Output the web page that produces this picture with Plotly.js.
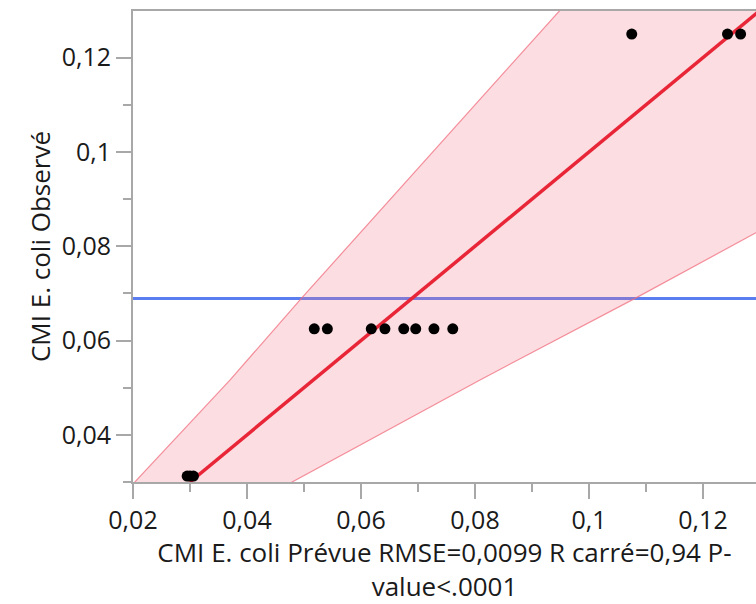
<!DOCTYPE html>
<html>
<head>
<meta charset="utf-8">
<script src="https://cdn.plot.ly/plotly-3.0.1.min.js"></script>
<style>
html, body { margin: 0; padding: 0; background: #fff; }
#chart { width: 756px; height: 604px; }
</style>
</head>
<body>
<div id="chart"></div>
<script>
// Data
const predicted = [0.0295, 0.0300, 0.0306, 0.0518, 0.0541, 0.0618, 0.0642, 0.0675, 0.0696, 0.0728, 0.0761, 0.1075, 0.1243, 0.1266];
const observed  = [0.03125, 0.03125, 0.03125, 0.0625, 0.0625, 0.0625, 0.0625, 0.0625, 0.0625, 0.0625, 0.0625, 0.125, 0.125, 0.125];

const fitX = [0.03, 0.135];
const fitY = [0.03, 0.135];

const meanObserved = 0.0689;

const bandUpperX = [0.0126, 0.0203, 0.0370, 0.0495, 0.0949, 0.1023];
const bandUpperY = [0.02, 0.03, 0.0516, 0.0689, 0.13, 0.14];
const bandLowerX = [0.0327, 0.0481, 0.0808, 0.1080, 0.1292, 0.145];
const bandLowerY = [0.02, 0.03, 0.0516, 0.0689, 0.0828, 0.0932];

const xRange = [0.02, 0.1293];
const yRange = [0.03, 0.1299];

const xTickVals = [0.02, 0.04, 0.06, 0.08, 0.1, 0.12];
const xTickText = ['0,02', '0,04', '0,06', '0,08', '0,1', '0,12'];
const yTickVals = [0.04, 0.06, 0.08, 0.1, 0.12];
const yTickText = ['0,04', '0,06', '0,08', '0,1', '0,12'];

const xTitle = 'CMI E. coli Prévue RMSE=0,0099 R carré=0,94 P-<br>value<.0001';
const yTitle = 'CMI E. coli Observé';

// Build the band polygon: upper edge, outer corner, lower edge reversed
const cornerX = bandLowerX[bandLowerX.length - 1];
const cornerY = bandUpperY[bandUpperY.length - 1];
const polyX = bandUpperX.concat([cornerX]).concat(bandLowerX.slice().reverse());
const polyY = bandUpperY.concat([cornerY]).concat(bandLowerY.slice().reverse());

const FONT = '"Segoe UI", "Open Sans", "Noto Sans", sans-serif';
const TICK_SIZE = 25;
const TITLE_SIZE = 26;
const TXT = '#1a1a1a';
const AXIS_COLOR = '#a8a8a8';

const traces = [
  {
    x: [xRange[0] - 0.01, xRange[1] + 0.01], y: [meanObserved, meanObserved],
    mode: 'lines', line: { color: 'rgb(90,125,240)', width: 3 },
    hoverinfo: 'skip', showlegend: false
  },
  {
    x: polyX, y: polyY, mode: 'lines', fill: 'toself',
    fillcolor: 'rgba(245,120,140,0.25)',
    line: { color: 'rgba(240,110,125,0.75)', width: 1.2 },
    hoverinfo: 'skip', showlegend: false
  },
  {
    x: fitX, y: fitY, mode: 'lines',
    line: { color: 'rgb(232,38,55)', width: 3.5 },
    hoverinfo: 'skip', showlegend: false
  },
  {
    x: predicted, y: observed, mode: 'markers',
    marker: { color: '#000', size: 11 },
    showlegend: false, cliponaxis: false
  }
];

const layout = {
  width: 756, height: 604,
  margin: { l: 133, r: 0, t: 11, b: 122 },
  paper_bgcolor: '#fff', plot_bgcolor: '#fff',
  font: { family: FONT, size: TICK_SIZE, color: TXT },
  showlegend: false,
  xaxis: {
    range: xRange, showgrid: false, zeroline: false,
    showline: true, linecolor: AXIS_COLOR, linewidth: 2, mirror: true,
    ticks: 'outside', ticklen: 15, tickwidth: 2, tickcolor: AXIS_COLOR,
    tickvals: xTickVals, ticktext: xTickText,
    tickfont: { family: FONT, size: TICK_SIZE, color: TXT },
    minor: { dtick: 0.01, ticks: 'outside', ticklen: 8, tickwidth: 2, tickcolor: AXIS_COLOR, showgrid: false },
    title: { text: xTitle, font: { family: FONT, size: TITLE_SIZE, color: TXT }, standoff: 5 }
  },
  yaxis: {
    range: yRange, showgrid: false, zeroline: false,
    showline: true, linecolor: AXIS_COLOR, linewidth: 2,
    ticks: 'outside', ticklen: 15, tickwidth: 2, tickcolor: AXIS_COLOR,
    tickvals: yTickVals, ticktext: yTickText,
    tickfont: { family: FONT, size: TICK_SIZE, color: TXT },
    minor: { dtick: 0.01, ticks: 'outside', ticklen: 8, tickwidth: 2, tickcolor: AXIS_COLOR, showgrid: false },
    title: { text: yTitle, font: { family: FONT, size: TITLE_SIZE, color: TXT }, standoff: 4 }
  }
};

Plotly.newPlot('chart', traces, layout, { displayModeBar: false, staticPlot: true });
</script>
</body>
</html>
